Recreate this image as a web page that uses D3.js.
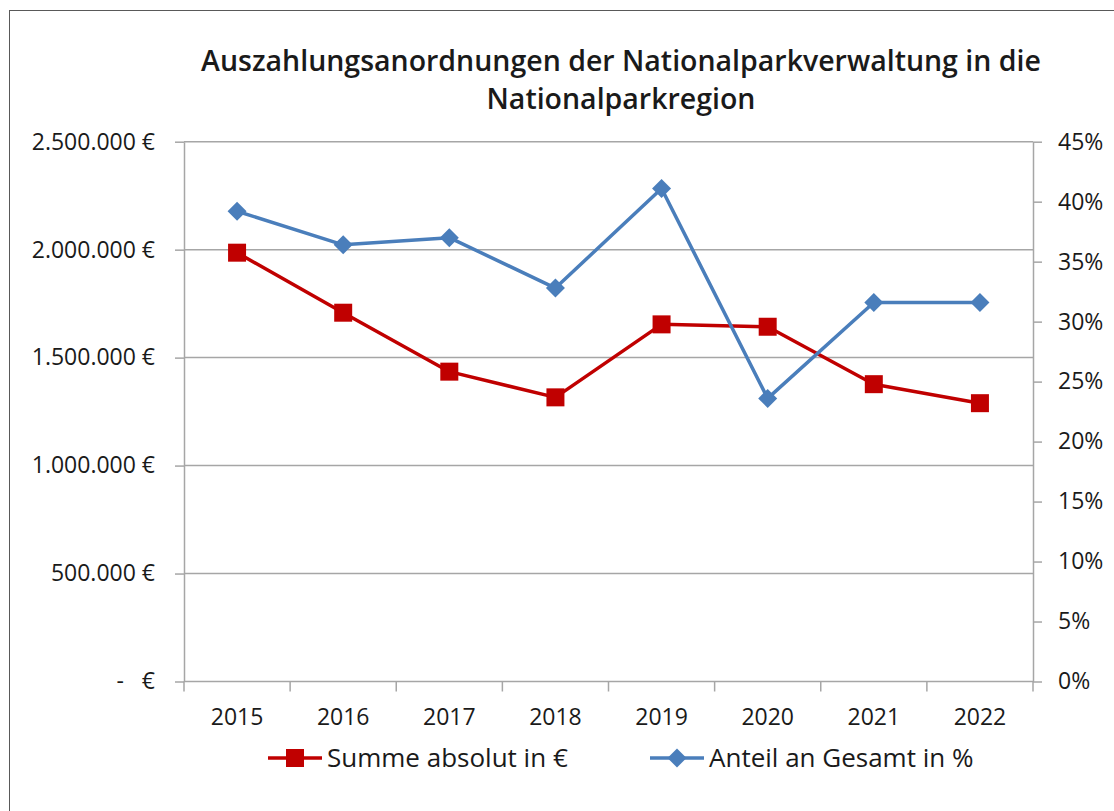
<!DOCTYPE html>
<html>
<head>
<meta charset="utf-8">
<script src="https://cdn.jsdelivr.net/npm/d3@7"></script>
<style>
  body { margin: 0; background: #fff; }
  text { font-family: "Open Sans", "DejaVu Sans", sans-serif; fill: #1a1a1a; }
</style>
</head>
<body>
<div class="canvas"></div>
<script>
// data.
const years = ['2015', '2016', '2017', '2018', '2019', '2020', '2021', '2022'];
const summeAbsolut = [1986000, 1708000, 1435000, 1316000, 1654000, 1643000, 1377000, 1289000];
const anteilGesamt = [0.392, 0.364, 0.370, 0.328, 0.411, 0.236, 0.316, 0.316];
const leftTicks = [0, 500000, 1000000, 1500000, 2000000, 2500000];
const rightTicks = [0, 0.05, 0.10, 0.15, 0.20, 0.25, 0.30, 0.35, 0.40, 0.45];
const titleLines = ['Auszahlungsanordnungen der Nationalparkverwaltung in die', 'Nationalparkregion'];
const seriesNames = ['Summe absolut in €', 'Anteil an Gesamt in %'];

// dimensions.
const svgDimensions = { width: 1114, height: 811 };
const plot = { left: 184, right: 1033, top: 141.7, bottom: 681.5 };
const red = '#C00000';
const blue = '#4A7EBB';
const gridColor = '#A6A6A6';

const svg = d3.select('.canvas')
    .append('svg')
        .attr('width', svgDimensions.width)
        .attr('height', svgDimensions.height);

// chart frame (only left and top edges are inside the picture).
svg.append('rect')
    .attr('x', 9.5).attr('y', 10.5)
    .attr('width', 1200).attr('height', 900)
    .attr('fill', 'none')
    .attr('stroke', '#595959')
    .attr('stroke-width', 1);

// title.
svg.append('g')
    .selectAll('text')
    .data(titleLines)
    .enter().append('text')
        .attr('x', 621)
        .attr('y', (d, i) => 71 + i * 38)
        .attr('text-anchor', 'middle')
        .attr('font-size', 28.5)
        .attr('font-weight', 600)
        .text(d => d);

// scales.
const x = d3.scaleBand().domain(years).range([plot.left, plot.right]);
const yLeft = d3.scaleLinear().domain([0, 2500000]).range([plot.bottom, plot.top]);
const yRight = d3.scaleLinear().domain([0, 0.45]).range([plot.bottom, plot.top]);

const de = d3.formatLocale({ decimal: ',', thousands: '.', grouping: [3], currency: ['', ' €'] });
const euro = v => v === 0 ? '-\u00A0\u00A0\u00A0€' : de.format(',.0f')(v) + ' €';

// gridlines.
svg.append('g')
    .selectAll('line')
    .data(leftTicks.filter(d => d > 0))
    .enter().append('line')
        .attr('x1', plot.left).attr('x2', plot.right)
        .attr('y1', d => yLeft(d)).attr('y2', d => yLeft(d))
        .attr('stroke', gridColor)
        .attr('stroke-width', 1.5);

// axes.
const styleAxis = g => {
    g.selectAll('path, line').attr('stroke', gridColor).attr('stroke-width', 1.5);
    g.selectAll('text')
        .attr('font-size', 23)
        .attr('font-family', '"Open Sans", "DejaVu Sans", sans-serif')
        .attr('fill', '#1a1a1a');
};

svg.append('g')
    .attr('transform', `translate(${plot.left},0)`)
    .call(d3.axisLeft(yLeft).tickValues(leftTicks).tickFormat(euro).tickSize(9).tickSizeOuter(0).tickPadding(20))
    .call(styleAxis);

svg.append('g')
    .attr('transform', `translate(${plot.right},0)`)
    .call(d3.axisRight(yRight).tickValues(rightTicks).tickFormat(d3.format('.0%')).tickSize(9).tickSizeOuter(0).tickPadding(16))
    .call(styleAxis);

const xAxis = svg.append('g')
    .attr('transform', `translate(0,${plot.bottom})`)
    .call(d3.axisBottom(x).tickSize(0).tickPadding(27))
    .call(styleAxis);
xAxis.select('.domain').attr('d', `M${plot.left},0H${plot.right}`);

// category boundary ticks.
xAxis.selectAll('.bound')
    .data(years.concat(['end']))
    .enter().append('line')
        .attr('class', 'bound')
        .attr('x1', (d, i) => plot.left + i * x.step())
        .attr('x2', (d, i) => plot.left + i * x.step())
        .attr('y1', 0).attr('y2', 10)
        .attr('stroke', gridColor)
        .attr('stroke-width', 1.5);

const cx = d => x(d) + x.bandwidth() / 2;

// red series: Summe absolut.
const redLine = d3.line()
    .x((d, i) => cx(years[i]))
    .y(d => yLeft(d));

svg.append('path')
    .datum(summeAbsolut)
    .attr('d', redLine)
    .attr('fill', 'none')
    .attr('stroke', red)
    .attr('stroke-width', 3.5)
    .attr('stroke-linejoin', 'round');

// blue series: Anteil an Gesamt.
const blueLine = d3.line()
    .x((d, i) => cx(years[i]))
    .y(d => yRight(d));

svg.append('path')
    .datum(anteilGesamt)
    .attr('d', blueLine)
    .attr('fill', 'none')
    .attr('stroke', blue)
    .attr('stroke-width', 3.5)
    .attr('stroke-linejoin', 'round');

const square = d3.symbol().type(d3.symbolSquare).size(18 * 18);
const diamond = d3.symbol().type(d3.symbolDiamond2).size(230);

svg.append('g')
    .selectAll('path')
    .data(summeAbsolut)
    .enter().append('path')
        .attr('d', square)
        .attr('transform', (d, i) => `translate(${cx(years[i])},${yLeft(d)})`)
        .attr('fill', red);

svg.append('g')
    .selectAll('path')
    .data(anteilGesamt)
    .enter().append('path')
        .attr('d', diamond)
        .attr('transform', (d, i) => `translate(${cx(years[i])},${yRight(d)})`)
        .attr('fill', blue);

// legend.
const legendItems = [
    { name: seriesNames[0], color: red, symbol: square, x: 268 },
    { name: seriesNames[1], color: blue, symbol: diamond, x: 650 }
];
const legendY = 758;

const legend = svg.append('g')
    .selectAll('g')
    .data(legendItems)
    .enter().append('g')
        .attr('transform', d => `translate(${d.x},${legendY})`);

legend.append('line')
    .attr('x1', 0).attr('x2', 54)
    .attr('y1', 0).attr('y2', 0)
    .attr('stroke', d => d.color)
    .attr('stroke-width', 3.5);

legend.append('path')
    .attr('d', d => d.symbol())
    .attr('transform', 'translate(27,0)')
    .attr('fill', d => d.color);

legend.append('text')
    .attr('x', 59)
    .attr('y', 9)
    .attr('font-size', 26)
    .text(d => d.name);
</script>
</body>
</html>
